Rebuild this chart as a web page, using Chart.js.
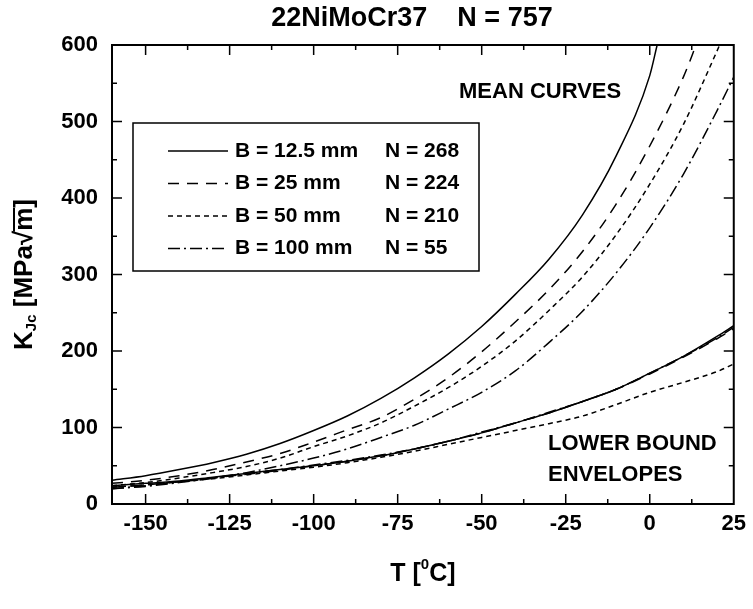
<!DOCTYPE html>
<html><head><meta charset="utf-8">
<script src="https://cdn.jsdelivr.net/npm/chart.js@4"></script>
<style>html,body{margin:0;padding:0;background:#fff}#wrap{width:753px;height:609px;position:relative}</style>
</head><body><div id="wrap"><canvas id="c" width="753" height="609"></canvas></div>
<script>
// ---------- data ----------
const xTicks = [-150, -125, -100, -75, -50, -25, 0, 25];
const yTicks = [0, 100, 200, 300, 400, 500, 600];
const seriesNames = ["B = 12.5 mm", "B = 25 mm", "B = 50 mm", "B = 100 mm"];
const seriesCounts = ["N = 268", "N = 224", "N = 210", "N = 55"];

// mean curves
const meanT_B125 = [-160,-150,-140,-130,-120,-110,-100,-90,-80,-70,-60,-50,-40,-30,-20,-10,0,2.2];
const meanK_B125 = [31,37,45,54,65,79,96,115,138,165,196,232,274,320,378,455,560,600];
const meanT_B25  = [-160,-150,-140,-130,-120,-110,-100,-90,-80,-70,-60,-50,-40,-30,-20,-10,0,10,13.8];
const meanK_B25  = [27,31,37,45,55,66,81,97,113,137,165,199,238,280,330,392,468,558,600];
const meanT_B50  = [-160,-150,-140,-130,-120,-110,-100,-90,-80,-70,-60,-50,-40,-30,-20,-10,0,10,20,20.8];
const meanK_B50  = [24,28,34,41,49,60,75,89,106,128,152,180,213,253,297,352,418,496,592,600];
const meanT_B100 = [-160,-150,-140,-130,-120,-110,-100,-90,-80,-70,-60,-50,-40,-30,-20,-10,0,10,20,25];
const meanK_B100 = [20,23,28,34,41,50,60,72,87,103,124,146,174,211,252,302,361,431,514,558];

// lower bound envelopes
const lowT = [-160,-150,-140,-130,-120,-110,-100,-90,-80,-70,-60,-50,-40,-30,-20,-10,0,10,20,25];
const lowK_B125 = [24,27,30,35,40,45,50,56,63,72,82,93,106,119,134,150,171,193,219,233];
const lowK_B25  = [22,25,29,34,39,44,50,56,63,72,82,93,106,119,134,150,170,192,216,229];
const lowK_B50  = [22,25,29,33,38,43,48,54,61,69,78,87,96,105,115,130,146,159,173,183];
const lowK_B100 = [20,24,29,34,40,45,51,57,64,72,82,94,106,120,134,150,171,193,217,231];

// ---------- styling ----------
const FONT = '"Liberation Sans", Arial, Helvetica, sans-serif';
const dashes = [[], [11, 8], [5, 4], [12, 4, 2, 4]];

const meanSets = [[meanT_B125, meanK_B125], [meanT_B25, meanK_B25], [meanT_B50, meanK_B50], [meanT_B100, meanK_B100]];
const lowSets = [lowK_B125, lowK_B25, lowK_B50, lowK_B100];

const datasets = [];
meanSets.forEach((s, i) => {
  datasets.push({
    label: 'mean ' + seriesNames[i],
    data: s[0].map((t, j) => ({x: t, y: s[1][j]})),
    borderColor: '#000', borderWidth: 1.5, borderDash: dashes[i],
    pointRadius: 0, showLine: true, fill: false, cubicInterpolationMode: 'monotone'
  });
});
lowSets.forEach((k, i) => {
  datasets.push({
    label: 'lower ' + seriesNames[i],
    data: lowT.map((t, j) => ({x: t, y: k[j]})),
    borderColor: '#000', borderWidth: 1.5, borderDash: dashes[i],
    pointRadius: 0, showLine: true, fill: false, cubicInterpolationMode: 'monotone'
  });
});

const decor = {
  id: 'decor',
  afterDraw(chart) {
    const {ctx, chartArea: a, scales: {x, y}} = chart;
    ctx.save();
    ctx.strokeStyle = '#000'; ctx.fillStyle = '#000';
    ctx.setLineDash([]);
    // frame
    ctx.lineWidth = 2;
    ctx.strokeRect(a.left, a.top, a.right - a.left, a.bottom - a.top);
    // ticks (inward, all four sides)
    ctx.lineWidth = 1.5;
    ctx.beginPath();
    const xt = (v, L) => { const p = x.getPixelForValue(v); ctx.moveTo(p, a.bottom); ctx.lineTo(p, a.bottom - L); ctx.moveTo(p, a.top); ctx.lineTo(p, a.top + L); };
    const yt = (v, L) => { const p = y.getPixelForValue(v); ctx.moveTo(a.left, p); ctx.lineTo(a.left + L, p); ctx.moveTo(a.right, p); ctx.lineTo(a.right - L, p); };
    xTicks.forEach(v => { if (v > x.min && v < x.max) xt(v, 10); const m = v - 12.5; if (m > x.min) xt(m, 5); });
    yTicks.forEach(v => { if (v > y.min && v < y.max) yt(v, 10); const m = v + 50; if (m < y.max) yt(m, 5); });
    ctx.stroke();

    // title
    ctx.font = 'bold 27px ' + FONT;
    ctx.textAlign = 'center'; ctx.textBaseline = 'middle';
    ctx.fillText('22NiMoCr37    N = 757', 412, 19);

    // annotations
    ctx.font = 'bold 22px ' + FONT;
    ctx.textAlign = 'left';
    ctx.fillText('MEAN CURVES', 459, 92);
    ctx.fillText('LOWER BOUND', 548, 444);
    ctx.fillText('ENVELOPES', 548, 475);

    // x axis title: T [0C] with superscript
    {
      const big = 'bold 25px ' + FONT, small = 'bold 15px ' + FONT;
      ctx.font = big; const w1 = ctx.measureText('T [').width; const w3 = ctx.measureText('C]').width;
      ctx.font = small; const w2 = ctx.measureText('0').width;
      const cx = (a.left + a.right) / 2, cy = 574;
      let sx = cx - (w1 + w2 + w3) / 2;
      ctx.textAlign = 'left';
      ctx.font = big; ctx.fillText('T [', sx, cy); sx += w1;
      ctx.font = small; ctx.fillText('0', sx, cy - 9); sx += w2;
      ctx.font = big; ctx.fillText('C]', sx, cy);
    }
    // y axis title: K_Jc [MPa√m]
    {
      const big = 'bold 26px ' + FONT, small = 'bold 15px ' + FONT;
      ctx.font = big;
      const wK = ctx.measureText('K').width, wB = ctx.measureText(' [MPa').width, wR = ctx.measureText('√').width,
            wM = ctx.measureText('m').width, wE = ctx.measureText(']').width;
      ctx.font = small; const wJ = ctx.measureText('Jc').width;
      const total = wK + wJ + wB + wR + wM + wE;
      ctx.save();
      ctx.translate(25, (a.top + a.bottom) / 2);
      ctx.rotate(-Math.PI / 2);
      let sx = -total / 2;
      ctx.textAlign = 'left'; ctx.textBaseline = 'middle';
      ctx.font = big; ctx.fillText('K', sx, 0); sx += wK;
      ctx.font = small; ctx.fillText('Jc', sx, 7); sx += wJ;
      ctx.font = big; ctx.fillText(' [MPa', sx, 0); sx += wB;
      ctx.fillText('√', sx, 0); sx += wR;
      ctx.fillText('m', sx, 0);
      ctx.lineWidth = 2; ctx.beginPath(); ctx.moveTo(sx - 1, -11); ctx.lineTo(sx + wM, -11); ctx.stroke();
      sx += wM;
      ctx.fillText(']', sx, 0);
      ctx.restore();
    }

    // legend box
    const L = {x: 133, y: 123, w: 346, h: 148};
    ctx.lineWidth = 1.5; ctx.setLineDash([]);
    ctx.strokeRect(L.x, L.y, L.w, L.h);
    ctx.font = 'bold 21px ' + FONT; ctx.textAlign = 'left'; ctx.textBaseline = 'middle';
    seriesNames.forEach((nm, i) => {
      const ry = 151 + i * 32.5;
      ctx.setLineDash(dashes[i]);
      ctx.beginPath(); ctx.moveTo(168, ry); ctx.lineTo(228, ry); ctx.stroke();
      ctx.setLineDash([]);
      ctx.fillText(nm, 235, ry);
      ctx.fillText(seriesCounts[i], 385, ry);
    });
    ctx.restore();
  }
};

new Chart(document.getElementById('c'), {
  type: 'scatter',
  data: {datasets},
  options: {
    responsive: false, animation: false, devicePixelRatio: 1,
    layout: {padding: {top: 45, right: 14, left: 0, bottom: 0}},
    plugins: {legend: {display: false}, tooltip: {enabled: false}, title: {display: false}},
    elements: {line: {tension: 0}},
    scales: {
      x: {
        type: 'linear', min: -160, max: 25,
        afterBuildTicks: s => { s.ticks = xTicks.map(v => ({value: v})); },
        afterFit: s => { s.height = 105; },
        grid: {display: false, drawTicks: false}, border: {display: false},
        ticks: {color: '#000', font: {family: FONT, size: 22, weight: 'bold'}, padding: 7, maxRotation: 0, autoSkip: false}
      },
      y: {
        type: 'linear', min: 0, max: 600,
        afterBuildTicks: s => { s.ticks = yTicks.map(v => ({value: v})); },
        afterFit: s => { s.width = 112; },
        grid: {display: false, drawTicks: false}, border: {display: false},
        ticks: {color: '#000', font: {family: FONT, size: 22, weight: 'bold'}, padding: 14, autoSkip: false}
      }
    }
  },
  plugins: [decor]
});
</script></body></html>
